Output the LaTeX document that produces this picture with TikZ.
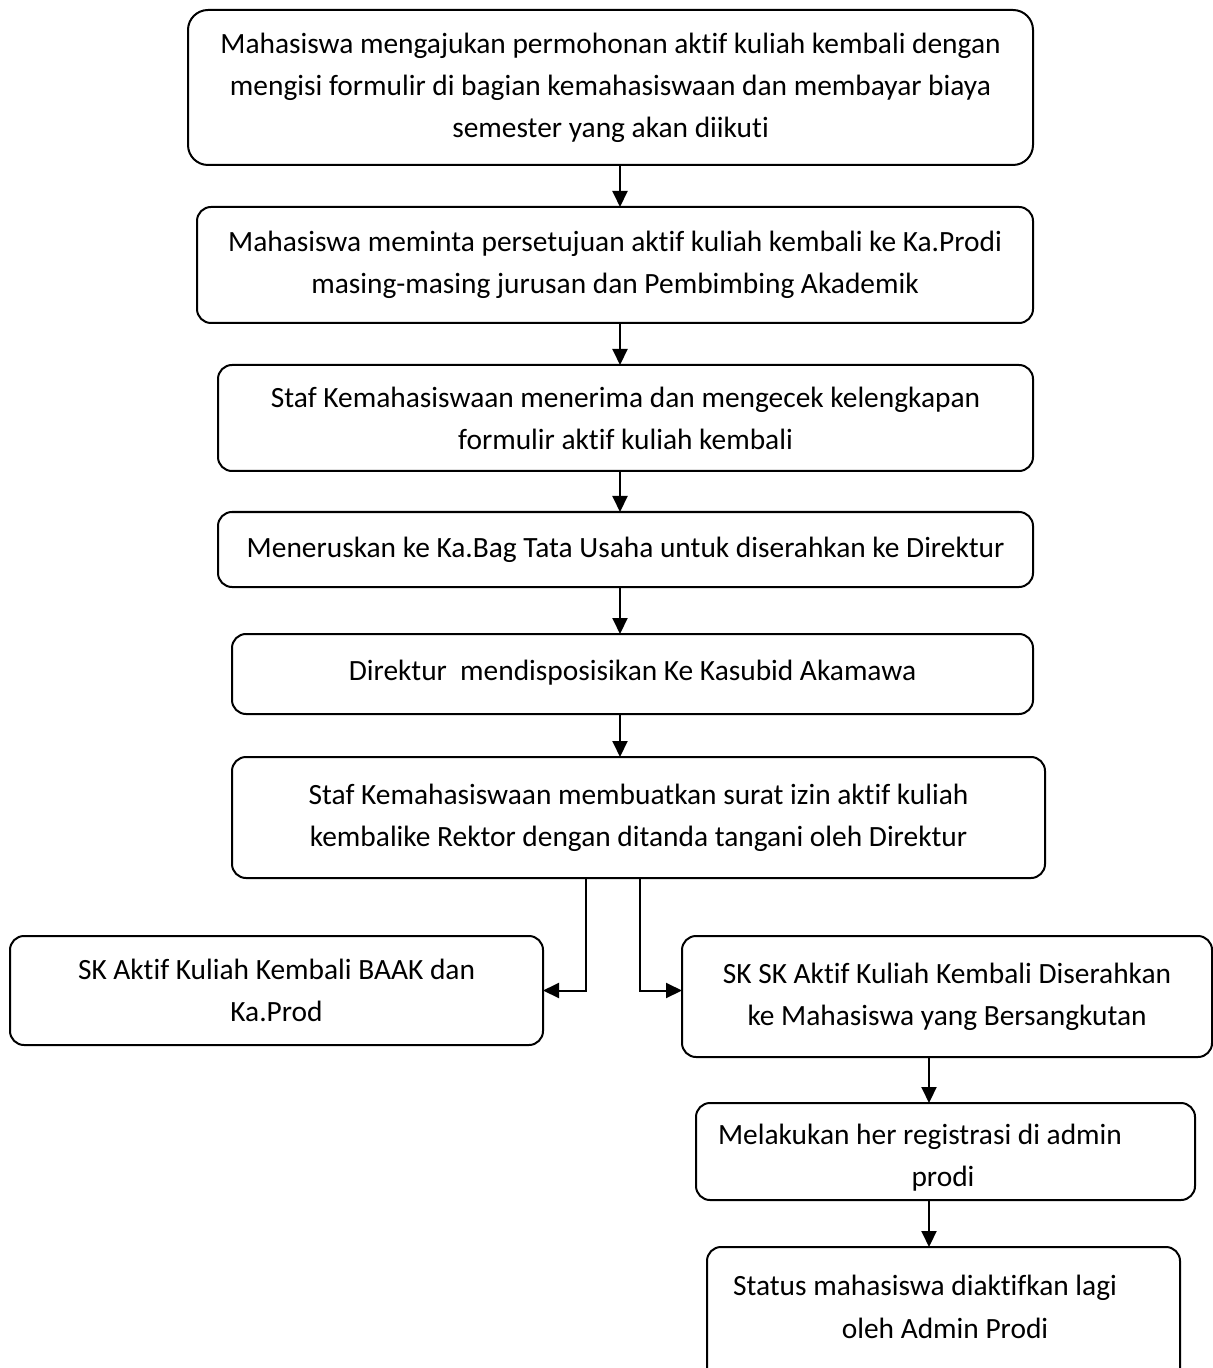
\documentclass[tikz,border=0pt]{standalone}
\usepackage{fontspec}
\setmainfont[Ligatures=NoCommon]{Carlito}
\usetikzlibrary{arrows.meta}
\begin{document}
\begin{tikzpicture}[x=0.5pt,y=-0.5pt,line width=1pt,
    flowbox/.style={draw,rounded corners=7pt,inner sep=0pt,outer sep=0pt,align=center,font=\fontsize{14.7}{21}\selectfont},
    flowtext/.style={inner sep=0pt,align=center,font=\fontsize{14.7}{21}\selectfont},
    flowarrow/.style={-{Triangle[width=7.5pt,length=8pt]}} ]
    \useasboundingbox (0,0) rectangle (1213,1368);
    \clip (0,0) rectangle (1213,1368);
    \node at (610.5,87.5) [flowbox,rounded corners=10pt,minimum width=422.5pt,minimum height=77.5pt] (b1) {Mahasiswa mengajukan permohonan aktif kuliah kembali dengan\\mengisi formulir di bagian kemahasiswaan dan membayar biaya\\semester yang akan diikuti};
    \node at (615,265) [flowbox,minimum width=418pt,minimum height=58pt] (b2) {Mahasiswa meminta persetujuan aktif kuliah kembali ke Ka.Prodi\\masing-masing jurusan dan Pembimbing Akademik};
    \node at (625.5,418) [flowbox,minimum width=407.5pt,minimum height=53pt] (b3) {Staf Kemahasiswaan menerima dan mengecek kelengkapan\\formulir aktif kuliah kembali};
    \node at (625.5,549.5) [flowbox,minimum width=407.5pt,minimum height=37.5pt] (b4) {Meneruskan ke Ka.Bag Tata Usaha untuk diserahkan ke Direktur};
    \node at (632.5,674) [flowbox,minimum width=400.5pt,minimum height=40pt] (b5) {\raisebox{3.5pt}{Direktur\ \ mendisposisikan Ke Kasubid Akamawa}};
    \node at (638.5,817.5) [flowbox,minimum width=406.5pt,minimum height=60.5pt] (b6) {Staf Kemahasiswaan membuatkan surat izin aktif kuliah\\kembalike Rektor dengan ditanda tangani oleh Direktur};
    \node at (276.5,990.5) [flowbox,minimum width=266.5pt,minimum height=54.5pt] (b7) {SK Aktif Kuliah Kembali BAAK dan\\Ka.Prod};
    \node at (947,996.5) [flowbox,minimum width=265pt,minimum height=60.5pt] (b8) {\raisebox{2.5pt}{SK SK Aktif Kuliah Kembali Diserahkan}\\\raisebox{2.5pt}{ke Mahasiswa yang Bersangkutan}};
    \node at (945.5,1151.5) [flowbox,minimum width=249.5pt,minimum height=48.5pt] (b9) {};
    \node at (920,1137) [flowtext] (t9a) {Melakukan her registrasi di admin};
    \node at (943,1179) [flowtext] (t9b) {prodi};
    \node at (943.5,1318.5) [flowbox,minimum width=236.5pt,minimum height=71.5pt] (b10) {};
    \node at (925,1288) [flowtext] (t10a) {Status mahasiswa diaktifkan lagi};
    \node at (945,1328) [flowtext] (t10b) {oleh Admin Prodi};
    \coordinate (ax) at (620,0);
    \coordinate (bx) at (929,0);
    \coordinate (lx) at (586,0);
    \coordinate (rx) at (640,0);
    \draw [flowarrow] (b1.south -| ax) to (b2.north -| ax);
    \draw [flowarrow] (b2.south -| ax) to (b3.north -| ax);
    \draw [flowarrow] (b3.south -| ax) to (b4.north -| ax);
    \draw [flowarrow] (b4.south -| ax) to (b5.north -| ax);
    \draw [flowarrow] (b5.south -| ax) to (b6.north -| ax);
    \draw [flowarrow] (b6.south -| lx) |- (b7.east);
    \draw [flowarrow] (b6.south -| rx) |- (b7.east -| b8.west);
    \draw [flowarrow] (b8.south -| bx) to (b9.north -| bx);
    \draw [flowarrow] (b9.south -| bx) to (b10.north -| bx);
\end{tikzpicture}
\end{document}
